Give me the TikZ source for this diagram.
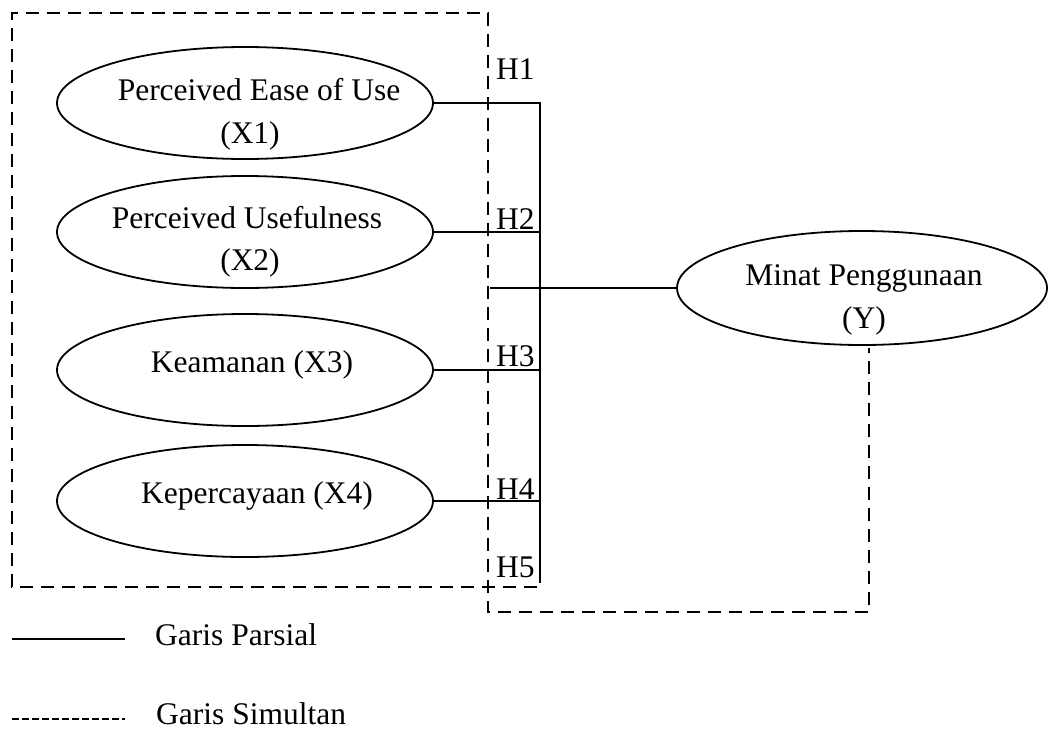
\documentclass[tikz,border=0pt]{standalone}
\usepackage{fontspec}
\setmainfont{Liberation Serif}
\usetikzlibrary{shapes.geometric}
\begin{document}
\begin{tikzpicture}[x=1pt,y=-1pt,
  var/.style={draw, ellipse, line width=1.8pt, minimum width=376pt, minimum height=112pt, inner sep=0pt},
  lbl/.style={anchor=base, font=\fontsize{31.5}{43}\selectfont, inner sep=0pt},
  hl/.style={anchor=base west, font=\fontsize{31.5}{43}\selectfont, inner sep=0pt},
  partial/.style={line width=1.8pt},
  simul/.style={line width=2.6pt, dash pattern=on 13pt off 8pt},
  legsimul/.style={line width=2.4pt, dash pattern=on 7pt off 3pt},
]
\useasboundingbox (0,0) rectangle (1048,731);

% variable ellipses
\node[var] (x1) at (245,103) {};
\node[var] (x2) at (245,232) {};
\node[var] (x3) at (245,370) {};
\node[var] (x4) at (245,501) {};
\node[var, minimum width=370pt, minimum height=114pt] (y) at (862,288) {};

% texts
\node[lbl] (t1a) at (259,100) {Perceived Ease of Use};
\node[lbl] (t1b) at (250,143) {(X1)};
\node[lbl] (t2a) at (247,228) {Perceived Usefulness};
\node[lbl] (t2b) at (250,270) {(X2)};
\node[lbl] (t3) at (252,372) {Keamanan (X3)};
\node[lbl] (t4) at (257,503) {Kepercayaan (X4)};
\node[lbl] (tya) at (864,285) {Minat Penggunaan};
\node[lbl] (tyb) at (864,328) {(Y)};

% hypothesis labels
\node[hl] (h1) at (496,79) {H1};
\node[hl] (h2) at (496,229) {H2};
\node[hl] (h3) at (496,366) {H3};
\node[hl] (h4) at (496,499) {H4};
\node[hl] (h5) at (496,577) {H5};

% partial lines
\coordinate (bb) at (540,583);
\coordinate (ys) at (490,291);
\draw[partial] (x1.east) -| (bb);
\draw[partial] (x2.east) -- (x2.east -| bb);
\draw[partial] (x3.east) -- (x3.east -| bb);
\draw[partial] (x4.east) -- (x4.east -| bb);
\draw[partial] (ys |- y.west) -- (y.west);

% simultaneous dashed frame
\coordinate (d1) at (537,587);
\coordinate (d2) at (12,587);
\coordinate (d3) at (12,13);
\coordinate (d4) at (488,13);
\coordinate (d5) at (488,612);
\coordinate (d6) at (869,612);
\coordinate (d7) at (869,348);
\draw[simul] (d1) -- (d2) -- (d3) -- (d4) -- (d5) -- (d6) -- (d7);

% legend
\coordinate (l1a) at (12,639);
\coordinate (l1b) at (125,639);
\draw[partial] (l1a) -- (l1b);
\node[hl] (lg1) at (155,645) {Garis Parsial};
\coordinate (l2a) at (12,719);
\coordinate (l2b) at (125,719);
\draw[legsimul] (l2a) -- (l2b);
\node[hl] (lg2) at (156,724) {Garis Simultan};
\end{tikzpicture}
\end{document}
